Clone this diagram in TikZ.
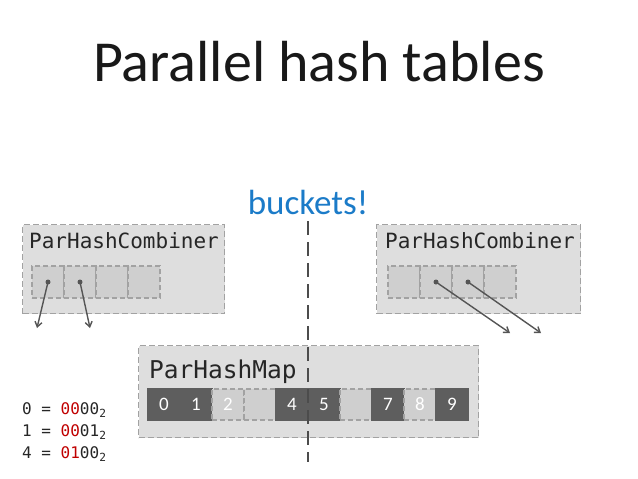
\documentclass[tikz,border=0pt]{standalone}
\usepackage{fontspec}
\setmainfont{Carlito}
\setmonofont{DejaVu Sans Mono}
\usetikzlibrary{positioning, arrows.meta}

\definecolor{boxfill}{HTML}{DEDEDE}
\definecolor{boxline}{HTML}{A2A2A2}
\definecolor{cellfill}{HTML}{CFCFCF}
\definecolor{celldark}{HTML}{5E5E5E}
\definecolor{arrowgray}{HTML}{555555}
\definecolor{bucketblue}{HTML}{1B7BC8}
\definecolor{bitred}{HTML}{C00000}

\begin{document}
\begin{tikzpicture}[
        x=1pt, y=-1pt,
        groupbox/.style={rectangle, draw=boxline, fill=boxfill, line width=1.4pt, dash pattern=on 6pt off 3pt, inner sep=0pt, anchor=north west},
        monolabel/.style={font=\ttfamily\fontsize{21}{25}\selectfont, text=black!85, anchor=west, inner sep=0pt},
        cellbox/.style={rectangle, draw=boxline, fill=cellfill, line width=1.2pt, dash pattern=on 5pt off 3pt, minimum width=32pt, minimum height=32pt, inner sep=0pt, outer sep=0pt, font=\fontsize{19}{22}\selectfont, text=white},
        fullcell/.style={cellbox, fill=celldark, draw=celldark, solid},
        dot/.style={circle, fill=arrowgray, inner sep=0pt, minimum size=5pt},
        arr/.style={-{Straight Barb[length=5pt, width=7pt]}, line width=1.4pt, arrowgray},
        bits/.style={font=\ttfamily\fontsize{16}{19}\selectfont, text=black!85, anchor=west, inner sep=0pt},
    ]
        \useasboundingbox (0,0) rectangle (638,479);

        % Title
        \node[font=\fontsize{58}{66}\selectfont, text=black!90] (title) at (319,62) {Parallel hash tables};
        \node[font=\fontsize{35}{40}\selectfont, text=bucketblue] (buckets) at (308,202) {buckets!};

        % Left combiner
        \node[groupbox, minimum width=202pt, minimum height=89pt] (lcomb) at (22,224) {};
        \node[monolabel] (lcomblabel) at (29,241) {ParHashCombiner};
        \node[cellbox, anchor=north west] (l0) at (32,266) {};
        \node[cellbox, right=0pt of l0] (l1) {};
        \node[cellbox, right=0pt of l1] (l2) {};
        \node[cellbox, right=0pt of l2] (l3) {};

        % Right combiner
        \node[groupbox, minimum width=204pt, minimum height=89pt] (rcomb) at (376,224) {};
        \node[monolabel] (rcomblabel) at (385,241) {ParHashCombiner};
        \node[cellbox, anchor=north west] (r0) at (388,266) {};
        \node[cellbox, right=0pt of r0] (r1) {};
        \node[cellbox, right=0pt of r1] (r2) {};
        \node[cellbox, right=0pt of r2] (r3) {};

        % Hash map with its buckets
        \node[groupbox, minimum width=340pt, minimum height=92pt] (hmap) at (138,345) {};
        \node[monolabel, font=\ttfamily\fontsize{24.5}{28}\selectfont] (hmaplabel) at (149,372) {ParHashMap};
        \node[fullcell, anchor=north west, minimum height=31pt] (b0) at (148,389) {0};
        \node[fullcell, right=0pt of b0, minimum height=31pt] (b1) {1};
        \node[cellbox, right=0pt of b1, minimum height=31pt] (b2) {2};
        \node[cellbox, right=0pt of b2, minimum height=31pt] (b3) {};
        \node[fullcell, right=0pt of b3, minimum height=31pt] (b4) {4};
        \node[fullcell, right=0pt of b4, minimum height=31pt] (b5) {5};
        \node[cellbox, right=0pt of b5, minimum height=31pt] (b6) {};
        \node[fullcell, right=0pt of b6, minimum height=31pt] (b7) {7};
        \node[cellbox, right=0pt of b7, minimum height=31pt] (b8) {8};
        \node[fullcell, right=0pt of b8, minimum height=31pt] (b9) {9};

        % Hash codes
        \node[bits] (code0) at (22,410) {0 = \textcolor{bitred}{00}00\textsubscript{2}};
        \node[bits] (code1) at (22,432) {1 = \textcolor{bitred}{00}01\textsubscript{2}};
        \node[bits] (code4) at (22,454) {4 = \textcolor{bitred}{01}00\textsubscript{2}};

        % Elements leaving the combiners
        \node[dot] (ld0) at (l0.center) {};
        \node[dot] (ld1) at (l1.center) {};
        \node[dot] (rd1) at (r1.center) {};
        \node[dot] (rd2) at (r2.center) {};
        \coordinate (lend0) at (37,328);
        \coordinate (lend1) at (90,328);
        \coordinate (rend1) at (510,333);
        \coordinate (rend2) at (541,333);
        \draw[arr] (ld0.center) -- (lend0);
        \draw[arr] (ld1.center) -- (lend1);
        \draw[arr] (rd1.center) -- (rend1);
        \draw[arr] (rd2.center) -- (rend2);

        % Split between the halves
        \coordinate (splittop) at (308,221);
        \coordinate (splitbot) at (308,462);
        \draw[line width=1.6pt, black!70, dash pattern=on 14pt off 7pt] (splittop) -- (splitbot);
    \end{tikzpicture}
\end{document}
